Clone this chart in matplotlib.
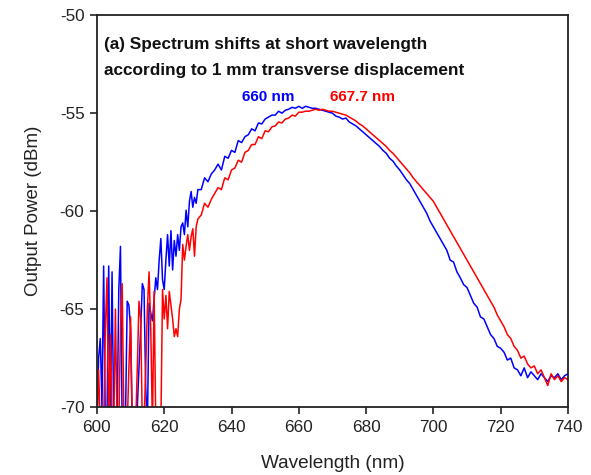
import numpy as np
import matplotlib
matplotlib.use("Agg")
import matplotlib.pyplot as plt

plt.rcParams['font.family'] = ['Liberation Sans', 'DejaVu Sans']
plt.rcParams['axes.unicode_minus'] = False

# Wavelength grid (nm): fine steps in the noisy short-wavelength part, 1 nm after
wl_fine = [600.0 + 0.5 * i for i in range(61)]          # 600 .. 630
wl_coarse = [631.0 + i for i in range(110)]             # 631 .. 740
wavelength = wl_fine + wl_coarse

# Blue spectrum (peak 660 nm), dBm
blue_fine = [
    -71, -67.5, -66.5, -70, -62.8, -71, -70.5, -62.8, -71, -63.1,
    -71, -70, -71, -64, -61.8, -71, -71, -70.5, -64.6, -64.8,
    -66, -71, -71, -71, -70, -68, -66, -63.7, -64.0, -69,
    -71, -64.7, -65.2, -65.6, -64.5, -63.4, -64.0, -62.5, -61.4, -63.5,
    -64.0, -62.5, -61.2, -62.8, -61.0, -63.0, -61.5, -62.3, -61.2, -62.0,
    -60.8, -60.6, -61.2, -59.95, -60.8, -59.5, -59.0, -59.8, -59.3, -59.6,
    -58.9,
]
blue_coarse = [
    -58.9, -58.3, -58.5, -58.1, -57.9, -57.6, -57.9, -57.2, -57.3, -56.9,
    -57.0, -56.4, -56.5, -56.2, -56.1, -55.8, -55.9, -55.5, -55.55, -55.3,
    -55.2, -55.1, -55.1, -54.9, -55.0, -54.85, -54.8, -54.7, -54.75, -54.65,
    -54.75, -54.65, -54.7, -54.75, -54.75, -54.8, -54.85, -54.9, -54.95, -55.0,
    -55.15, -55.2, -55.3, -55.25, -55.45, -55.55, -55.65, -55.8, -55.95, -56.1,
    -56.25, -56.4, -56.55, -56.7, -56.9, -57.05, -57.3, -57.45, -57.7, -57.9,
    -58.15, -58.4, -58.6, -58.9, -59.2, -59.5, -59.8, -60.1, -60.5, -60.8,
    -61.1, -61.4, -61.7, -62.0, -62.5, -62.6, -63.1, -63.4, -63.75, -63.9,
    -64.3, -64.7, -64.9, -65.4, -65.5, -65.9, -66.3, -66.5, -66.9, -67.0,
    -67.2, -67.6, -67.5, -68.0, -68.1, -68.4, -68.0, -68.5, -68.2, -68.4,
    -68.6, -68.3, -68.5, -68.7, -68.4, -68.5, -68.3, -68.6, -68.4, -68.3,
]
blue_power = blue_fine + blue_coarse

# Red spectrum (peak 667.7 nm), dBm
red_fine = [
    -71, -68.1, -71, -71, -71, -66, -63.4, -71, -66.3, -71,
    -71, -65.0, -71, -71, -66, -63.7, -70.5, -71, -71, -68,
    -65.4, -71, -71, -71, -68, -64.6, -65.5, -71, -71, -68,
    -65, -63.1, -66, -71, -64.1, -71, -71, -71, -71, -64.0,
    -65.5, -64.3, -66.0, -64.1, -64.8, -65.5, -66.4, -66.0, -66.4, -65.0,
    -64.5, -61.7, -62.5, -61.8, -61.2, -62.0, -61.3, -60.9, -62.3, -60.8,
    -60.4,
]
red_coarse = [
    -60.2, -59.6, -59.8, -59.4, -59.1, -58.8, -58.9, -58.3, -58.4, -57.9,
    -57.8, -57.4, -57.5, -57.0, -56.9, -56.6, -56.6, -56.2, -56.3, -55.9,
    -55.95, -55.7, -55.65, -55.45, -55.5, -55.3, -55.25, -55.1, -55.15, -54.95,
    -54.95, -54.9, -54.9, -54.85, -54.8, -54.85, -54.8, -54.85, -54.9, -54.9,
    -54.95, -55.0, -55.05, -55.1, -55.2, -55.3, -55.4, -55.55, -55.65, -55.8,
    -55.95, -56.1, -56.25, -56.4, -56.55, -56.7, -56.9, -57.05, -57.25, -57.45,
    -57.65, -57.85, -58.05, -58.3, -58.5, -58.7, -58.9, -59.1, -59.3, -59.5,
    -59.8, -60.1, -60.4, -60.7, -61.0, -61.3, -61.6, -61.9, -62.2, -62.5,
    -62.8, -63.1, -63.4, -63.7, -64.0, -64.3, -64.6, -64.9, -65.3, -65.6,
    -65.9, -66.3, -66.5, -66.9, -67.1, -67.5, -67.4, -67.8, -68.0, -67.9,
    -68.3, -68.1, -68.5, -68.9, -68.3, -68.6, -68.4, -68.7, -68.5, -68.6,
]
red_power = red_fine + red_coarse

x_ticks = [600, 620, 640, 660, 680, 700, 720, 740]
y_ticks = [-70, -65, -60, -55, -50]

fig = plt.figure(figsize=(5.91, 4.75), dpi=100)
ax = fig.add_axes([0.164, 0.143, 0.797, 0.825])

ax.plot(wavelength, blue_power, color='#0000ff', lw=1.1)
ax.plot(wavelength, red_power, color='#ff0000', lw=1.1)

ax.set_xlim(600, 740)
ax.set_ylim(-70, -50)
ax.set_xticks(x_ticks)
ax.set_yticks(y_ticks)
ax.tick_params(direction='out', length=5, width=1.2, labelsize=12.3, pad=4,
               top=False, right=False, colors='#222222')
for s in ax.spines.values():
    s.set_linewidth(1.3)
    s.set_color('#222222')

ax.set_xlabel('Wavelength (nm)', fontsize=13.7, labelpad=15, color='#222222')
ax.set_ylabel('Output Power (dBm)', fontsize=13.5, labelpad=13, color='#222222')

ax.text(0.016, 0.945, '(a) Spectrum shifts at short wavelength\naccording to 1 mm transverse displacement',
        transform=ax.transAxes, fontsize=12.4, fontweight='bold', va='top', ha='left',
        linespacing=1.9, color='#111111',
        bbox=dict(facecolor='white', edgecolor='none', pad=1))
ax.text(651.0, -54.15, '660 nm', color='#0000ff', fontsize=11, fontweight='bold',
        ha='center', va='center')
ax.text(678.8, -54.15, '667.7 nm', color='#ff0000', fontsize=11, fontweight='bold',
        ha='center', va='center')

fig.savefig('out.png', dpi=100)
